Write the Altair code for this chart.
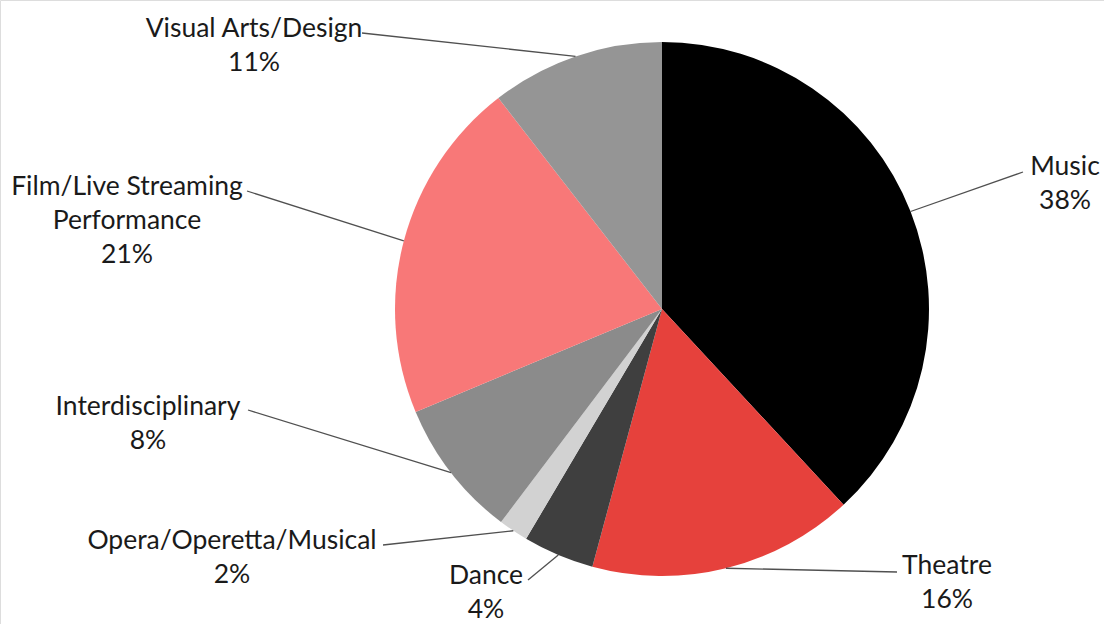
import math
import altair as alt
import pandas as pd

# ---- data ----
categories = ["Music", "Theatre", "Dance", "Opera/Operetta/Musical",
              "Interdisciplinary", "Film/Live Streaming Performance", "Visual Arts/Design"]
values = [38.1, 16.1, 4.3, 1.8, 8.4, 20.8, 10.5]
pct_labels = ["38%", "16%", "4%", "2%", "8%", "21%", "11%"]
label_texts = ["Music", "Theatre", "Dance", "Opera/Operetta/Musical",
               "Interdisciplinary", "Film/Live Streaming\nPerformance", "Visual Arts/Design"]
colors = ["#000000", "#e6413c", "#3f3f3f", "#d2d2d2", "#8b8b8b", "#f87878", "#959595"]

# ---- layout (pixels) ----
W, H = 1104, 624
CX, CY, R = 662, 309, 267
label_x = [1065, 947, 486, 232, 148, 127, 254]          # text centre
label_base = [175, 574, 584, 549, 415, 195, 37]          # first-line baseline
attach_x = [1023, 897, 528, 383, 248, 247, 362]          # leader start near label
attach_y = [172, 572, 580, 545, 410, 191, 33]

pie_df = pd.DataFrame({"cat": categories, "val": values, "ord": list(range(len(categories)))})

# leader-line end on the pie edge at each slice's middle angle
total = sum(values)
cum = 0.0
ends_x, ends_y = [], []
for v in values:
    mid = (cum + v / 2) / total * 2 * math.pi
    ends_x.append(CX + R * math.sin(mid))
    ends_y.append(CY - R * math.cos(mid))
    cum += v

lines_df = pd.DataFrame({"x": attach_x, "y": attach_y, "x2": ends_x, "y2": ends_y})
text_df = pd.DataFrame({
    "x": label_x, "y": label_base,
    "t": [f"{a}\n{b}" for a, b in zip(label_texts, pct_labels)],
})

xs = alt.Scale(domain=[0, W], range=[0, W])
ys = alt.Scale(domain=[0, H], range=[0, H])

pie = alt.Chart(pie_df).mark_arc(stroke=None).encode(
    theta=alt.Theta("val:Q", stack=True),
    order=alt.Order("ord:Q"),
    color=alt.Color("cat:N", scale=alt.Scale(domain=categories, range=colors), legend=None),
    x=alt.value(CX), y=alt.value(CY), radius=alt.value(R),
)

leaders = alt.Chart(lines_df).mark_rule(color="#505050", strokeWidth=1.3).encode(
    x=alt.X("x:Q", scale=xs, axis=None),
    y=alt.Y("y:Q", scale=ys, axis=None),
    x2="x2:Q", y2="y2:Q",
)

labels = alt.Chart(text_df).mark_text(
    font="Lato", fontSize=26.5, color="#1a1a1a", align="center",
    baseline="alphabetic", lineBreak="\n", lineHeight=34,
).encode(
    x=alt.X("x:Q", scale=xs, axis=None),
    y=alt.Y("y:Q", scale=ys, axis=None),
    text="t:N",
)

chart = alt.layer(pie, leaders, labels).properties(
    width=W, height=H, padding=0, autosize=alt.AutoSizeParams(type="none"),
).configure_view(stroke=None).configure(background="white")

chart.save("out.html", embed_options={"renderer": "svg", "actions": False})
